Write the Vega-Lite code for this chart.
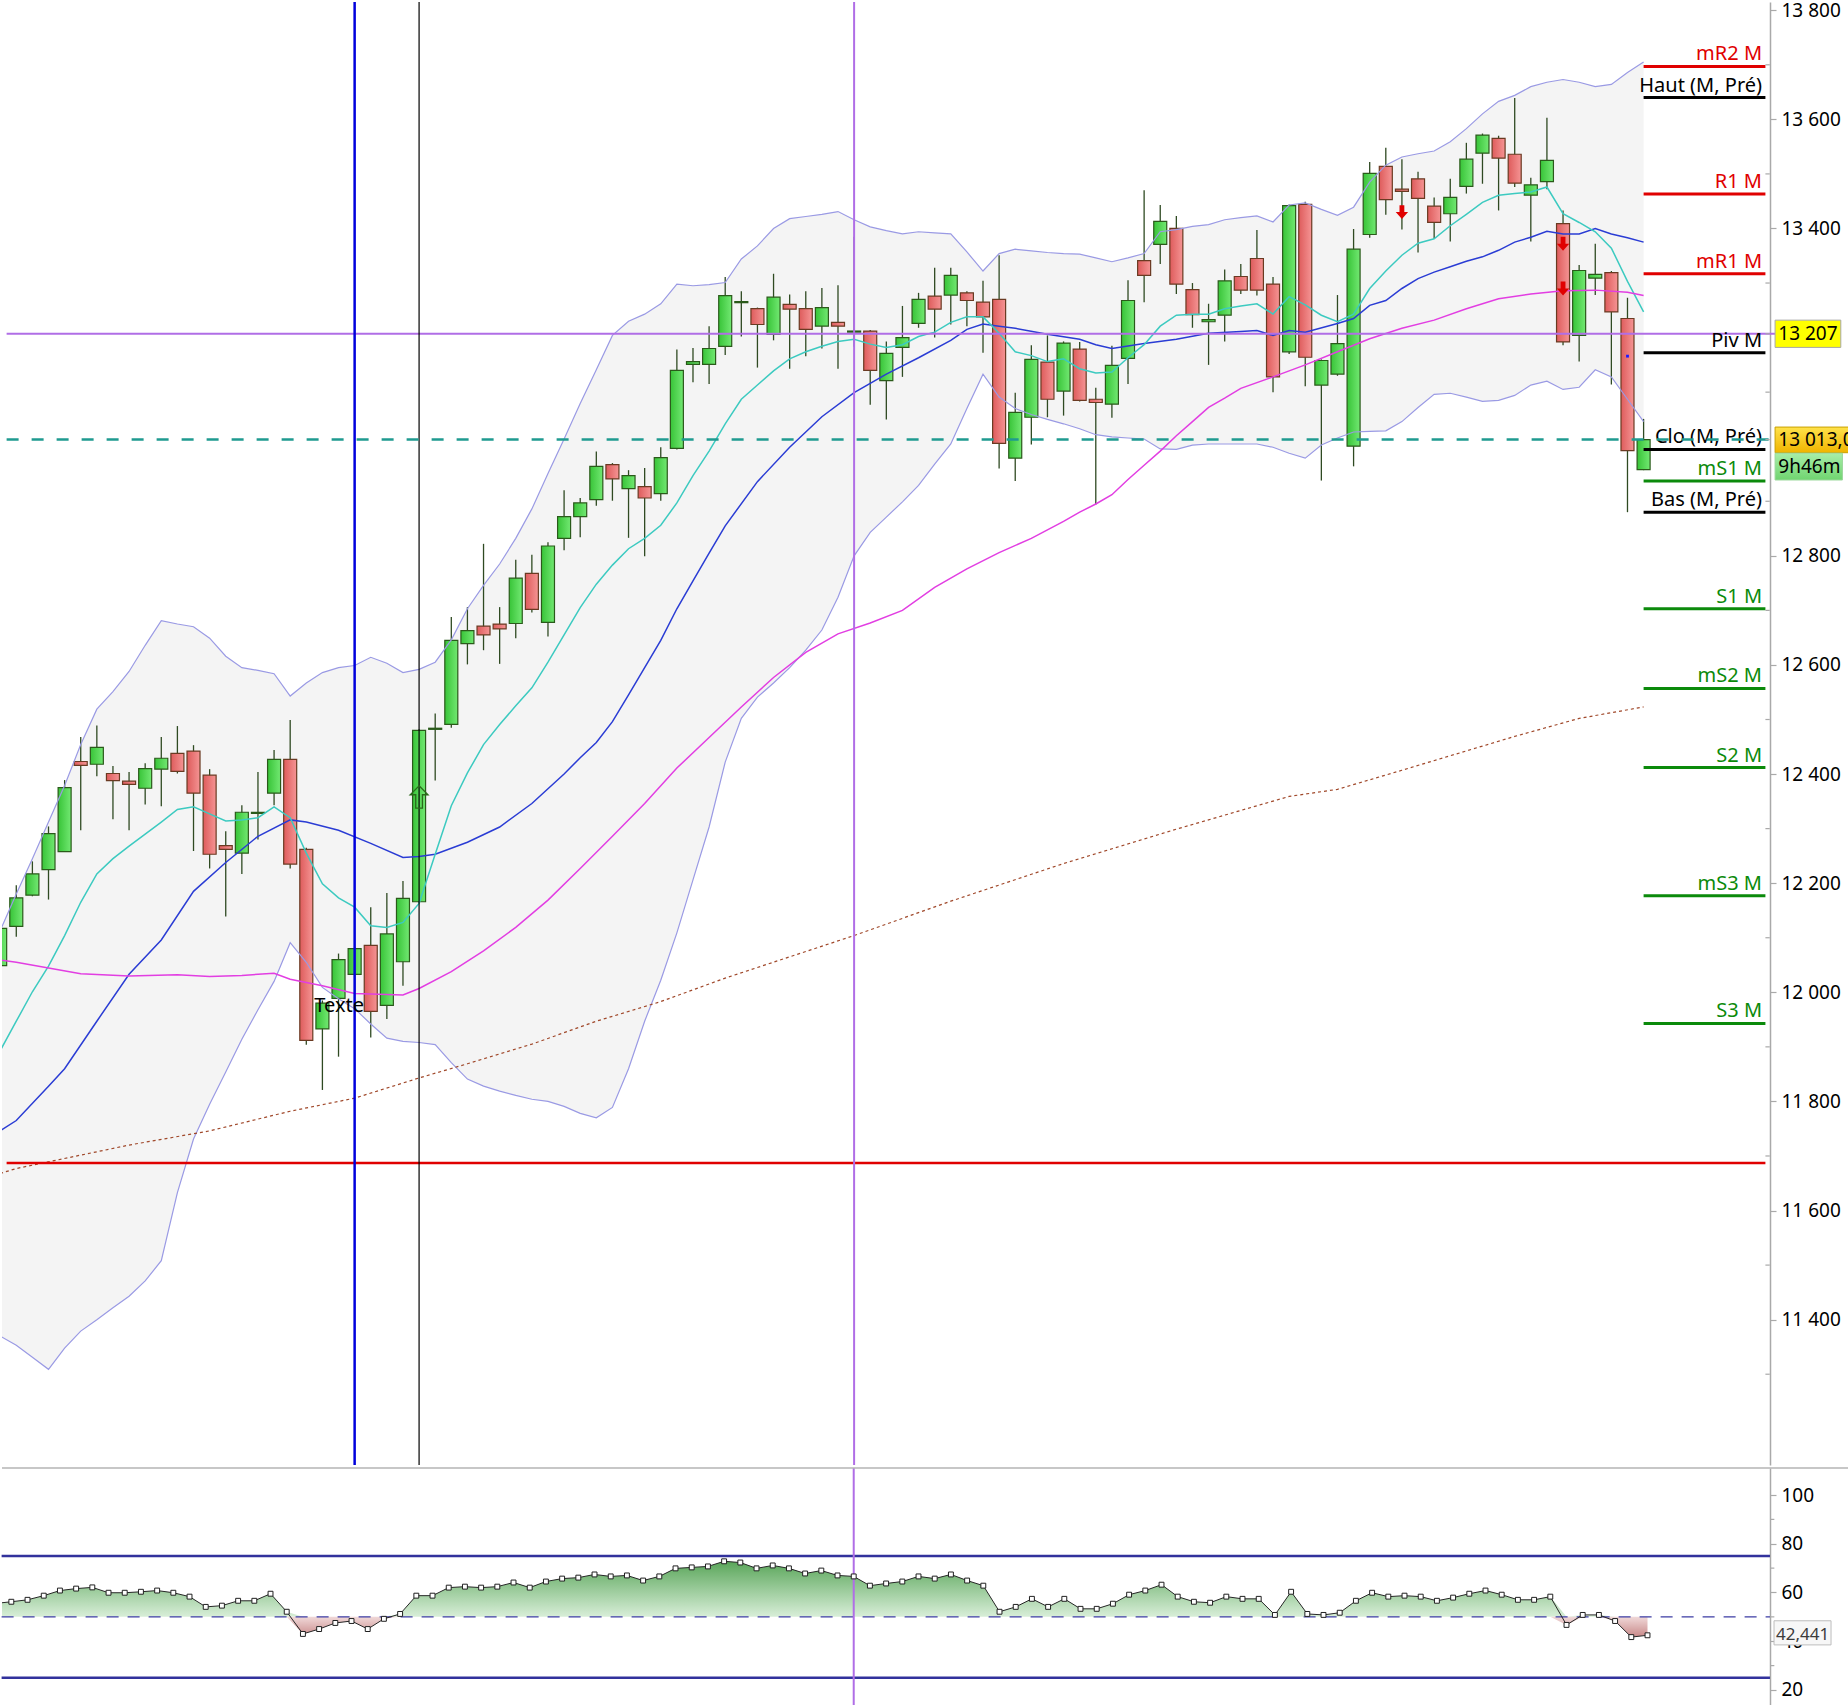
{
  "$schema": "https://vega.github.io/schema/vega-lite/v6.json",
  "description": "Candlestick chart with Bollinger bands, moving averages, monthly pivots and RSI panel",
  "padding": 0,
  "background": "white",
  "spacing": 0,
  "config": {
    "view": {"stroke": null},
    "font": "Noto Sans",
    "axis": {
      "grid": false,
      "domainColor": "#a9a9a9",
      "domainWidth": 1.5,
      "tickColor": "#a9a9a9",
      "tickWidth": 1.2,
      "tickSize": 6,
      "labelColor": "#000000",
      "labelFontSize": 19,
      "labelFont": "Noto Sans",
      "labelPadding": 5,
      "labelFlush": false,
      "labelOverlap": false,
      "labelBound": false
    }
  },
  "datasets": {
    "candles": [
      {"i":-1,"o":12049,"h":12125,"l":12040,"c":12117},
      {"i":0,"o":12121,"h":12196,"l":12102,"c":12173},
      {"i":1,"o":12178,"h":12240,"l":12176,"c":12217},
      {"i":2,"o":12225,"h":12304,"l":12170,"c":12291},
      {"i":3,"o":12258,"h":12389,"l":12258,"c":12375},
      {"i":4,"o":12423,"h":12468,"l":12297,"c":12416},
      {"i":5,"o":12418,"h":12489,"l":12396,"c":12449},
      {"i":6,"o":12401,"h":12415,"l":12317,"c":12388},
      {"i":7,"o":12387,"h":12404,"l":12297,"c":12381},
      {"i":8,"o":12374,"h":12420,"l":12344,"c":12410},
      {"i":9,"o":12409,"h":12468,"l":12341,"c":12429},
      {"i":10,"o":12438,"h":12488,"l":12401,"c":12405},
      {"i":11,"o":12442,"h":12453,"l":12259,"c":12365},
      {"i":12,"o":12398,"h":12409,"l":12227,"c":12253},
      {"i":13,"o":12269,"h":12295,"l":12139,"c":12262},
      {"i":14,"o":12255,"h":12343,"l":12217,"c":12330},
      {"i":15,"o":12328,"h":12404,"l":12280,"c":12330},
      {"i":16,"o":12365,"h":12444,"l":12343,"c":12427},
      {"i":17,"o":12427,"h":12499,"l":12227,"c":12235},
      {"i":18,"o":12262,"h":12265,"l":11904,"c":11912},
      {"i":19,"o":11933,"h":11985,"l":11821,"c":11980},
      {"i":20,"o":11989,"h":12071,"l":11882,"c":12060},
      {"i":21,"o":12033,"h":12083,"l":12000,"c":12080},
      {"i":22,"o":12086,"h":12156,"l":11917,"c":11965},
      {"i":23,"o":11976,"h":12182,"l":11951,"c":12107},
      {"i":24,"o":12056,"h":12204,"l":12012,"c":12172},
      {"i":25,"o":12166,"h":12482,"l":12163,"c":12480},
      {"i":26,"o":12482,"h":12511,"l":12388,"c":12484},
      {"i":27,"o":12491,"h":12688,"l":12485,"c":12645},
      {"i":28,"o":12639,"h":12706,"l":12601,"c":12663},
      {"i":29,"o":12671,"h":12822,"l":12627,"c":12655},
      {"i":30,"o":12675,"h":12706,"l":12602,"c":12666},
      {"i":31,"o":12676,"h":12793,"l":12649,"c":12759},
      {"i":32,"o":12768,"h":12802,"l":12696,"c":12702},
      {"i":33,"o":12678,"h":12825,"l":12652,"c":12818},
      {"i":34,"o":12832,"h":12920,"l":12810,"c":12872},
      {"i":35,"o":12872,"h":12906,"l":12834,"c":12897},
      {"i":36,"o":12903,"h":12991,"l":12892,"c":12964},
      {"i":37,"o":12967,"h":12970,"l":12901,"c":12941},
      {"i":38,"o":12923,"h":12957,"l":12833,"c":12947},
      {"i":39,"o":12927,"h":12961,"l":12799,"c":12906},
      {"i":40,"o":12914,"h":12999,"l":12901,"c":12980},
      {"i":41,"o":12997,"h":13178,"l":12995,"c":13140},
      {"i":42,"o":13151,"h":13181,"l":13118,"c":13156},
      {"i":43,"o":13151,"h":13221,"l":13115,"c":13180},
      {"i":44,"o":13184,"h":13311,"l":13168,"c":13277},
      {"i":45,"o":13264,"h":13285,"l":13202,"c":13266},
      {"i":46,"o":13253,"h":13255,"l":13145,"c":13224},
      {"i":47,"o":13206,"h":13317,"l":13195,"c":13274},
      {"i":48,"o":13261,"h":13279,"l":13143,"c":13252},
      {"i":49,"o":13253,"h":13285,"l":13166,"c":13215},
      {"i":50,"o":13221,"h":13291,"l":13180,"c":13255},
      {"i":51,"o":13228,"h":13296,"l":13143,"c":13221},
      {"i":52,"o":13210,"h":13385,"l":13183,"c":13212},
      {"i":53,"o":13212,"h":13214,"l":13077,"c":13140},
      {"i":54,"o":13121,"h":13193,"l":13050,"c":13171},
      {"i":55,"o":13182,"h":13258,"l":13128,"c":13200},
      {"i":56,"o":13226,"h":13282,"l":13218,"c":13270},
      {"i":57,"o":13276,"h":13328,"l":13200,"c":13252},
      {"i":58,"o":13278,"h":13328,"l":13224,"c":13314},
      {"i":59,"o":13282,"h":13285,"l":13221,"c":13268},
      {"i":60,"o":13265,"h":13304,"l":13172,"c":13238},
      {"i":61,"o":13270,"h":13351,"l":12960,"c":13006},
      {"i":62,"o":12979,"h":13099,"l":12937,"c":13063},
      {"i":63,"o":13054,"h":13186,"l":13004,"c":13160},
      {"i":64,"o":13155,"h":13204,"l":13054,"c":13087},
      {"i":65,"o":13102,"h":13193,"l":13057,"c":13190},
      {"i":66,"o":13179,"h":13192,"l":13083,"c":13085},
      {"i":67,"o":13087,"h":13108,"l":12894,"c":13081},
      {"i":68,"o":13078,"h":13185,"l":13053,"c":13149},
      {"i":69,"o":13162,"h":13305,"l":13115,"c":13268},
      {"i":70,"o":13341,"h":13470,"l":13265,"c":13314},
      {"i":71,"o":13371,"h":13443,"l":13335,"c":13413},
      {"i":72,"o":13400,"h":13423,"l":13280,"c":13298},
      {"i":73,"o":13288,"h":13300,"l":13218,"c":13242},
      {"i":74,"o":13229,"h":13262,"l":13150,"c":13233},
      {"i":75,"o":13241,"h":13325,"l":13193,"c":13304},
      {"i":76,"o":13312,"h":13335,"l":13280,"c":13287},
      {"i":77,"o":13345,"h":13397,"l":13277,"c":13287},
      {"i":78,"o":13298,"h":13311,"l":13100,"c":13128},
      {"i":79,"o":13174,"h":13444,"l":13170,"c":13442},
      {"i":80,"o":13444,"h":13449,"l":13111,"c":13164},
      {"i":81,"o":13113,"h":13160,"l":12938,"c":13158},
      {"i":82,"o":13133,"h":13278,"l":13130,"c":13189},
      {"i":83,"o":13001,"h":13399,"l":12964,"c":13362},
      {"i":84,"o":13389,"h":13522,"l":13383,"c":13501},
      {"i":85,"o":13514,"h":13548,"l":13425,"c":13453},
      {"i":86,"o":13472,"h":13527,"l":13398,"c":13468},
      {"i":87,"o":13491,"h":13504,"l":13356,"c":13455},
      {"i":88,"o":13441,"h":13457,"l":13381,"c":13411},
      {"i":89,"o":13427,"h":13491,"l":13376,"c":13457},
      {"i":90,"o":13477,"h":13557,"l":13464,"c":13527},
      {"i":91,"o":13538,"h":13574,"l":13482,"c":13571},
      {"i":92,"o":13565,"h":13570,"l":13433,"c":13529},
      {"i":93,"o":13536,"h":13639,"l":13476,"c":13483},
      {"i":94,"o":13461,"h":13493,"l":13376,"c":13480},
      {"i":95,"o":13486,"h":13603,"l":13472,"c":13525},
      {"i":96,"o":13409,"h":13433,"l":13186,"c":13192},
      {"i":97,"o":13204,"h":13333,"l":13156,"c":13323},
      {"i":98,"o":13309,"h":13372,"l":13278,"c":13316},
      {"i":99,"o":13319,"h":13322,"l":13114,"c":13247},
      {"i":100,"o":13235,"h":13273,"l":12880,"c":12993},
      {"i":101,"o":12958,"h":13051,"l":12957,"c":13013}
    ],
    "bands": [
      {"i":-1,"up":12113,"lo":11370},{"i":0,"up":12180,"lo":11353},{"i":1,"up":12245,"lo":11331},{"i":2,"up":12312,"lo":11309},
      {"i":3,"up":12379,"lo":11348},{"i":4,"up":12454,"lo":11379},{"i":5,"up":12519,"lo":11400},{"i":6,"up":12551,"lo":11422},
      {"i":7,"up":12588,"lo":11443},{"i":8,"up":12636,"lo":11471},{"i":9,"up":12681,"lo":11508},{"i":10,"up":12675,"lo":11633},
      {"i":11,"up":12670,"lo":11731},{"i":12,"up":12649,"lo":11795},{"i":13,"up":12616,"lo":11854},{"i":14,"up":12595,"lo":11914},
      {"i":15,"up":12590,"lo":11968},{"i":16,"up":12584,"lo":12020},{"i":17,"up":12543,"lo":12091},{"i":18,"up":12567,"lo":12055},
      {"i":19,"up":12586,"lo":12009},{"i":20,"up":12595,"lo":11988},{"i":21,"up":12599,"lo":11970},{"i":22,"up":12614,"lo":11942},
      {"i":23,"up":12603,"lo":11916},{"i":24,"up":12586,"lo":11910},{"i":25,"up":12592,"lo":11908},{"i":26,"up":12605,"lo":11904},
      {"i":27,"up":12646,"lo":11871},{"i":28,"up":12703,"lo":11841},{"i":29,"up":12746,"lo":11828},{"i":30,"up":12785,"lo":11819},
      {"i":31,"up":12832,"lo":11811},{"i":32,"up":12886,"lo":11804},{"i":33,"up":12951,"lo":11800},{"i":34,"up":13014,"lo":11791},
      {"i":35,"up":13079,"lo":11778},{"i":36,"up":13141,"lo":11770},{"i":37,"up":13204,"lo":11789},{"i":38,"up":13230,"lo":11860},
      {"i":39,"up":13243,"lo":11947},{"i":40,"up":13262,"lo":12022},{"i":41,"up":13298,"lo":12109},{"i":42,"up":13295,"lo":12206},
      {"i":43,"up":13297,"lo":12303},{"i":44,"up":13301,"lo":12422},{"i":45,"up":13344,"lo":12502},{"i":46,"up":13368,"lo":12541},
      {"i":47,"up":13400,"lo":12567},{"i":48,"up":13418,"lo":12595},{"i":49,"up":13422,"lo":12627},{"i":50,"up":13426,"lo":12664},
      {"i":51,"up":13431,"lo":12724},{"i":52,"up":13416,"lo":12800},{"i":53,"up":13403,"lo":12843},{"i":54,"up":13396,"lo":12871},
      {"i":55,"up":13390,"lo":12899},{"i":56,"up":13394,"lo":12929},{"i":57,"up":13392,"lo":12968},{"i":58,"up":13390,"lo":13005},
      {"i":59,"up":13357,"lo":13070},{"i":60,"up":13322,"lo":13133},{"i":61,"up":13354,"lo":13091},{"i":62,"up":13362,"lo":13070},
      {"i":63,"up":13359,"lo":13059},{"i":64,"up":13356,"lo":13050},{"i":65,"up":13354,"lo":13042},{"i":66,"up":13353,"lo":13033},
      {"i":67,"up":13346,"lo":13022},{"i":68,"up":13339,"lo":13018},{"i":69,"up":13346,"lo":13016},{"i":70,"up":13354,"lo":13014},
      {"i":71,"up":13394,"lo":12996},{"i":72,"up":13398,"lo":12995},{"i":73,"up":13404,"lo":13003},{"i":74,"up":13407,"lo":13005},
      {"i":75,"up":13416,"lo":13005},{"i":76,"up":13420,"lo":13005},{"i":77,"up":13423,"lo":13005},{"i":78,"up":13412,"lo":12999},
      {"i":79,"up":13443,"lo":12988},{"i":80,"up":13447,"lo":12979},{"i":81,"up":13435,"lo":13003},{"i":82,"up":13424,"lo":13016},
      {"i":83,"up":13439,"lo":13027},{"i":84,"up":13485,"lo":13028},{"i":85,"up":13516,"lo":13029},{"i":86,"up":13531,"lo":13046},
      {"i":87,"up":13537,"lo":13072},{"i":88,"up":13542,"lo":13096},{"i":89,"up":13559,"lo":13098},{"i":90,"up":13583,"lo":13091},
      {"i":91,"up":13610,"lo":13083},{"i":92,"up":13633,"lo":13085},{"i":93,"up":13644,"lo":13094},{"i":94,"up":13660,"lo":13113},
      {"i":95,"up":13668,"lo":13120},{"i":96,"up":13673,"lo":13105},{"i":97,"up":13668,"lo":13109},{"i":98,"up":13660,"lo":13141},
      {"i":99,"up":13664,"lo":13128},{"i":100,"up":13686,"lo":13087},{"i":101,"up":13705,"lo":13046}
    ],
    "mid": [
      {"i":-1,"v":11746},{"i":0,"v":11765},{"i":2,"v":11828},{"i":3,"v":11860},{"i":5,"v":11947},{"i":7,"v":12033},
      {"i":9,"v":12096},{"i":11,"v":12185},{"i":13,"v":12238},{"i":15,"v":12286},{"i":17,"v":12316},{"i":18,"v":12312},
      {"i":20,"v":12297},{"i":22,"v":12273},{"i":24,"v":12247},{"i":25,"v":12249},{"i":26,"v":12253},{"i":28,"v":12275},
      {"i":30,"v":12303},{"i":32,"v":12346},{"i":34,"v":12400},{"i":35,"v":12430},{"i":36,"v":12458},{"i":37,"v":12496},
      {"i":38,"v":12545},{"i":39,"v":12595},{"i":40,"v":12645},{"i":41,"v":12703},{"i":42,"v":12754},{"i":43,"v":12805},
      {"i":44,"v":12855},{"i":46,"v":12936},{"i":48,"v":12999},{"i":50,"v":13055},{"i":52,"v":13099},{"i":54,"v":13133},
      {"i":56,"v":13163},{"i":58,"v":13195},{"i":59,"v":13215},{"i":60,"v":13225},{"i":61,"v":13221},{"i":62,"v":13217},
      {"i":64,"v":13206},{"i":66,"v":13197},{"i":67,"v":13187},{"i":68,"v":13180},{"i":70,"v":13189},{"i":72,"v":13197},
      {"i":74,"v":13208},{"i":76,"v":13211},{"i":77,"v":13213},{"i":78,"v":13204},{"i":79,"v":13213},{"i":80,"v":13210},
      {"i":82,"v":13226},{"i":83,"v":13235},{"i":84,"v":13259},{"i":85,"v":13268},{"i":86,"v":13290},{"i":87,"v":13308},
      {"i":88,"v":13320},{"i":89,"v":13330},{"i":90,"v":13340},{"i":91,"v":13348},{"i":92,"v":13360},{"i":93,"v":13375},
      {"i":94,"v":13384},{"i":95,"v":13395},{"i":96,"v":13390},{"i":97,"v":13390},{"i":98,"v":13400},{"i":99,"v":13390},
      {"i":100,"v":13383},{"i":101,"v":13375}
    ],
    "fast": [
      {"i":-1,"v":11893},{"i":0,"v":11947},{"i":1,"v":12001},{"i":2,"v":12048},{"i":3,"v":12104},{"i":4,"v":12165},
      {"i":5,"v":12217},{"i":6,"v":12245},{"i":7,"v":12268},{"i":8,"v":12290},{"i":9,"v":12312},{"i":10,"v":12335},
      {"i":11,"v":12340},{"i":12,"v":12327},{"i":13,"v":12314},{"i":14,"v":12316},{"i":15,"v":12320},{"i":16,"v":12340},
      {"i":17,"v":12320},{"i":18,"v":12255},{"i":19,"v":12199},{"i":20,"v":12173},{"i":21,"v":12156},{"i":22,"v":12122},
      {"i":23,"v":12119},{"i":24,"v":12128},{"i":25,"v":12163},{"i":26,"v":12253},{"i":27,"v":12342},{"i":28,"v":12402},
      {"i":29,"v":12454},{"i":30,"v":12491},{"i":31,"v":12525},{"i":32,"v":12558},{"i":33,"v":12605},{"i":34,"v":12655},
      {"i":35,"v":12705},{"i":36,"v":12748},{"i":37,"v":12783},{"i":38,"v":12813},{"i":39,"v":12832},{"i":40,"v":12856},
      {"i":41,"v":12897},{"i":42,"v":12947},{"i":43,"v":12992},{"i":44,"v":13042},{"i":45,"v":13087},{"i":46,"v":13113},
      {"i":47,"v":13139},{"i":48,"v":13161},{"i":49,"v":13174},{"i":50,"v":13184},{"i":51,"v":13193},{"i":52,"v":13197},
      {"i":53,"v":13188},{"i":54,"v":13182},{"i":55,"v":13187},{"i":56,"v":13202},{"i":57,"v":13210},{"i":58,"v":13228},
      {"i":59,"v":13238},{"i":60,"v":13238},{"i":61,"v":13208},{"i":62,"v":13174},{"i":63,"v":13167},{"i":64,"v":13156},
      {"i":65,"v":13161},{"i":66,"v":13143},{"i":67,"v":13135},{"i":68,"v":13137},{"i":69,"v":13163},{"i":70,"v":13187},
      {"i":71,"v":13221},{"i":72,"v":13241},{"i":73,"v":13243},{"i":74,"v":13243},{"i":75,"v":13253},{"i":76,"v":13258},
      {"i":77,"v":13262},{"i":78,"v":13243},{"i":79,"v":13275},{"i":80,"v":13260},{"i":81,"v":13241},{"i":82,"v":13229},
      {"i":83,"v":13243},{"i":84,"v":13290},{"i":85,"v":13322},{"i":86,"v":13351},{"i":87,"v":13373},{"i":88,"v":13381},
      {"i":89,"v":13405},{"i":90,"v":13426},{"i":91,"v":13448},{"i":92,"v":13461},{"i":93,"v":13464},{"i":94,"v":13467},
      {"i":95,"v":13476},{"i":96,"v":13427},{"i":97,"v":13411},{"i":98,"v":13394},{"i":99,"v":13364},{"i":100,"v":13303},
      {"i":101,"v":13247}
    ],
    "slow": [
      {"i":-1,"v":12059},{"i":0,"v":12055},{"i":4,"v":12034},{"i":7,"v":12030},{"i":10,"v":12032},{"i":12,"v":12029},
      {"i":14,"v":12031},{"i":16,"v":12035},{"i":17,"v":12024},{"i":19,"v":12012},{"i":21,"v":11998},{"i":24,"v":11995},
      {"i":25,"v":12007},{"i":27,"v":12038},{"i":29,"v":12076},{"i":31,"v":12119},{"i":33,"v":12169},{"i":35,"v":12227},
      {"i":37,"v":12286},{"i":39,"v":12346},{"i":41,"v":12411},{"i":43,"v":12467},{"i":45,"v":12523},{"i":47,"v":12577},
      {"i":49,"v":12623},{"i":51,"v":12657},{"i":53,"v":12677},{"i":55,"v":12700},{"i":57,"v":12742},{"i":59,"v":12776},
      {"i":61,"v":12806},{"i":63,"v":12832},{"i":65,"v":12863},{"i":66,"v":12880},{"i":67,"v":12895},{"i":68,"v":12912},
      {"i":69,"v":12940},{"i":70,"v":12966},{"i":71,"v":12992},{"i":72,"v":13020},{"i":73,"v":13046},{"i":74,"v":13072},
      {"i":75,"v":13089},{"i":76,"v":13107},{"i":78,"v":13128},{"i":80,"v":13150},{"i":82,"v":13174},{"i":84,"v":13198},
      {"i":86,"v":13217},{"i":88,"v":13232},{"i":90,"v":13253},{"i":92,"v":13271},{"i":94,"v":13280},{"i":96,"v":13286},
      {"i":98,"v":13287},{"i":100,"v":13283},{"i":101,"v":13277}
    ],
    "ma200": [
      {"i":-1,"v":11668},{"i":0,"v":11677},{"i":7,"v":11720},{"i":12,"v":11746},{"i":17,"v":11782},{"i":21,"v":11806},
      {"i":25,"v":11843},{"i":28,"v":11869},{"i":32,"v":11905},{"i":36,"v":11947},{"i":40,"v":11983},{"i":44,"v":12026},
      {"i":48,"v":12065},{"i":52,"v":12104},{"i":58,"v":12167},{"i":65,"v":12236},{"i":72,"v":12299},{"i":79,"v":12359},
      {"i":82,"v":12372},{"i":86,"v":12407},{"i":93,"v":12469},{"i":97,"v":12502},{"i":101,"v":12523}
    ],
    "pivots": [
      {"n":"mR2 M","v":13697,"k":"r"},
      {"n":"Haut (M, Pré)","v":13640,"k":"n"},
      {"n":"R1 M","v":13463,"k":"r"},
      {"n":"mR1 M","v":13317,"k":"r"},
      {"n":"Piv M","v":13172,"k":"n"},
      {"n":"Clo (M, Pré)","v":12995,"k":"n"},
      {"n":"mS1 M","v":12937,"k":"s"},
      {"n":"Bas (M, Pré)","v":12880,"k":"n"},
      {"n":"S1 M","v":12703,"k":"s"},
      {"n":"mS2 M","v":12557,"k":"s"},
      {"n":"S2 M","v":12412,"k":"s"},
      {"n":"mS3 M","v":12177,"k":"s"},
      {"n":"S3 M","v":11943,"k":"s"}
    ],
    "ticks": [
      {"v":11300},{"v":11500},{"v":11700},{"v":11900},{"v":12100},{"v":12300},{"v":12500},{"v":12700},
      {"v":12900},{"v":13100},{"v":13300},{"v":13500},{"v":13700},{"v":13207},{"v":13013}
    ],
    "rsi": [
      {"i":-1,"r":55.5},{"i":0,"r":56.2},{"i":1,"r":57.0},{"i":2,"r":58.7},{"i":3,"r":60.8},{"i":4,"r":61.6},
      {"i":5,"r":62.1},{"i":6,"r":59.9},{"i":7,"r":59.9},{"i":8,"r":60.3},{"i":9,"r":60.8},{"i":10,"r":59.9},
      {"i":11,"r":58.3},{"i":12,"r":54.1},{"i":13,"r":54.6},{"i":14,"r":56.6},{"i":15,"r":56.6},{"i":16,"r":59.5},
      {"i":17,"r":52.1},{"i":18,"r":43.0},{"i":19,"r":45.0},{"i":20,"r":47.5},{"i":21,"r":48.3},{"i":22,"r":45.0},
      {"i":23,"r":49.2},{"i":24,"r":51.2},{"i":25,"r":58.7},{"i":26,"r":58.7},{"i":27,"r":62.0},{"i":28,"r":62.4},
      {"i":29,"r":62.0},{"i":30,"r":62.4},{"i":31,"r":64.1},{"i":32,"r":62.0},{"i":33,"r":64.5},{"i":34,"r":65.7},
      {"i":35,"r":66.1},{"i":36,"r":67.4},{"i":37,"r":66.6},{"i":38,"r":67.0},{"i":39,"r":64.9},{"i":40,"r":66.6},
      {"i":41,"r":69.9},{"i":42,"r":70.3},{"i":43,"r":70.7},{"i":44,"r":72.8},{"i":45,"r":72.3},{"i":46,"r":69.9},
      {"i":47,"r":71.1},{"i":48,"r":69.9},{"i":49,"r":67.8},{"i":50,"r":69.0},{"i":51,"r":67.0},{"i":52,"r":66.6},
      {"i":53,"r":62.8},{"i":54,"r":63.7},{"i":55,"r":64.5},{"i":56,"r":66.6},{"i":57,"r":65.7},{"i":58,"r":67.4},
      {"i":59,"r":64.9},{"i":60,"r":62.8},{"i":61,"r":52.1},{"i":62,"r":54.1},{"i":63,"r":57.4},{"i":64,"r":54.1},
      {"i":65,"r":57.4},{"i":66,"r":53.3},{"i":67,"r":53.3},{"i":68,"r":55.4},{"i":69,"r":59.1},{"i":70,"r":60.8},
      {"i":71,"r":63.2},{"i":72,"r":58.3},{"i":73,"r":56.2},{"i":74,"r":55.8},{"i":75,"r":58.3},{"i":76,"r":57.4},
      {"i":77,"r":57.4},{"i":78,"r":50.8},{"i":79,"r":60.3},{"i":80,"r":51.2},{"i":81,"r":50.8},{"i":82,"r":51.7},
      {"i":83,"r":56.6},{"i":84,"r":59.9},{"i":85,"r":58.3},{"i":86,"r":58.7},{"i":87,"r":58.3},{"i":88,"r":56.6},
      {"i":89,"r":57.9},{"i":90,"r":59.5},{"i":91,"r":60.8},{"i":92,"r":59.1},{"i":93,"r":57.0},{"i":94,"r":57.0},
      {"i":95,"r":58.3},{"i":96,"r":46.7},{"i":97,"r":50.8},{"i":98,"r":50.8},{"i":99,"r":48.3},{"i":100,"r":41.7},
      {"i":101,"r":42.441}
    ]
  },
  "vconcat": [
    {
      "width": 1848,
      "height": 1463,
      "layer": [
        {
          "data": {"name": "bands"},
          "mark": {"type": "area", "fill": "#f4f4f4", "clip": true},
          "encoding": {
            "x": {"field": "i", "type": "quantitative", "scale": {"domain": [-0.576, 113.5], "nice": false, "zero": false}, "axis": null},
            "y": {
              "field": "up", "type": "quantitative",
              "scale": {"domain": [11133.6, 13815.1], "nice": false, "zero": false},
              "axis": {
                "orient": "right", "offset": -80, "title": null,
                "values": [11400, 11600, 11800, 12000, 12200, 12400, 12600, 12800, 13400, 13600, 13800],
                "labelExpr": "replace(format(datum.value, ','), ',', ' ')"
              }
            },
            "y2": {"field": "lo"}
          }
        },
        {
          "data": {"name": "candles"},
          "mark": {"type": "rule", "color": "#2f4a22", "strokeWidth": 1.3, "clip": true},
          "encoding": {
            "x": {"field": "i", "type": "quantitative"},
            "y": {"field": "l", "type": "quantitative"},
            "y2": {"field": "h"}
          }
        },
        {
          "data": {"name": "candles"},
          "transform": [{"filter": "datum.c >= datum.o"}],
          "mark": {
            "type": "bar", "width": 13, "clip": true, "stroke": "#2a5a1a", "strokeWidth": 1.2,
            "fill": {"gradient": "linear", "x1": 0, "y1": 0, "x2": 1, "y2": 0,
              "stops": [{"offset": 0, "color": "#38c438"}, {"offset": 1, "color": "#72e872"}]}
          },
          "encoding": {
            "x": {"field": "i", "type": "quantitative"},
            "y": {"field": "o", "type": "quantitative"},
            "y2": {"field": "c"}
          }
        },
        {
          "data": {"name": "candles"},
          "transform": [{"filter": "datum.c < datum.o"}],
          "mark": {
            "type": "bar", "width": 13, "clip": true, "stroke": "#6a3a22", "strokeWidth": 1.2,
            "fill": {"gradient": "linear", "x1": 0, "y1": 0, "x2": 1, "y2": 0,
              "stops": [{"offset": 0, "color": "#de5c5c"}, {"offset": 1, "color": "#f59494"}]}
          },
          "encoding": {
            "x": {"field": "i", "type": "quantitative"},
            "y": {"field": "o", "type": "quantitative"},
            "y2": {"field": "c"}
          }
        },
        {
          "data": {"name": "bands"},
          "mark": {"type": "line", "color": "#9a9ae4", "strokeWidth": 1.2, "clip": true},
          "encoding": {"x": {"field": "i", "type": "quantitative"}, "y": {"field": "up", "type": "quantitative"}}
        },
        {
          "data": {"name": "bands"},
          "mark": {"type": "line", "color": "#9a9ae4", "strokeWidth": 1.2, "clip": true},
          "encoding": {"x": {"field": "i", "type": "quantitative"}, "y": {"field": "lo", "type": "quantitative"}}
        },
        {
          "data": {"name": "mid"},
          "mark": {"type": "line", "color": "#2a3cd4", "strokeWidth": 1.5, "clip": true},
          "encoding": {"x": {"field": "i", "type": "quantitative"}, "y": {"field": "v", "type": "quantitative"}}
        },
        {
          "data": {"name": "fast"},
          "mark": {"type": "line", "color": "#3ccac0", "strokeWidth": 1.5, "clip": true},
          "encoding": {"x": {"field": "i", "type": "quantitative"}, "y": {"field": "v", "type": "quantitative"}}
        },
        {
          "data": {"name": "slow"},
          "mark": {"type": "line", "color": "#e23ee2", "strokeWidth": 1.5, "clip": true},
          "encoding": {"x": {"field": "i", "type": "quantitative"}, "y": {"field": "v", "type": "quantitative"}}
        },
        {
          "data": {"name": "ma200"},
          "mark": {"type": "line", "color": "#a0482a", "strokeWidth": 1.2, "strokeDash": [3, 3], "clip": true},
          "encoding": {"x": {"field": "i", "type": "quantitative"}, "y": {"field": "v", "type": "quantitative"}}
        },
        {
          "data": {"values": [{}]},
          "mark": {"type": "rule", "color": "#e00000", "strokeWidth": 2.5},
          "encoding": {"x": {"datum": -0.6}, "x2": {"datum": 108.56}, "y": {"datum": 11687}}
        },
        {
          "data": {"values": [{}]},
          "mark": {"type": "rule", "color": "#b06ee6", "strokeWidth": 2},
          "encoding": {"x": {"datum": -0.6}, "x2": {"datum": 109.16}, "y": {"datum": 13207}}
        },
        {
          "data": {"values": [{}]},
          "mark": {"type": "rule", "color": "#0000dc", "strokeWidth": 2.5},
          "encoding": {"x": {"datum": 21}}
        },
        {
          "data": {"values": [{}]},
          "mark": {"type": "rule", "color": "#000000", "strokeWidth": 1.2},
          "encoding": {"x": {"datum": 25}}
        },
        {
          "data": {"values": [{}]},
          "mark": {"type": "rule", "color": "#b06ee6", "strokeWidth": 2},
          "encoding": {"x": {"datum": 52}}
        },
        {
          "data": {"name": "pivots"},
          "mark": {"type": "rule", "strokeWidth": 3},
          "encoding": {
            "x": {"datum": 101},
            "x2": {"datum": 108.56},
            "y": {"field": "v", "type": "quantitative"},
            "color": {"field": "k", "type": "nominal", "scale": {"domain": ["r", "n", "s"], "range": ["#e00000", "#000000", "#0b8a0b"]}, "legend": null}
          }
        },
        {
          "data": {"name": "pivots"},
          "mark": {"type": "text", "align": "right", "baseline": "alphabetic", "dy": -6, "fontSize": 20},
          "encoding": {
            "x": {"datum": 108.35},
            "y": {"field": "v", "type": "quantitative"},
            "text": {"field": "n"},
            "color": {"field": "k", "type": "nominal", "scale": {"domain": ["r", "n", "s"], "range": ["#e00000", "#000000", "#0b8a0b"]}, "legend": null}
          }
        },
        {
          "data": {"values": [{}]},
          "mark": {"type": "rule", "color": "#1f9a90", "strokeWidth": 2.5, "strokeDash": [12, 13]},
          "encoding": {"x": {"datum": -0.6}, "x2": {"datum": 109.16}, "y": {"datum": 13013}}
        },
        {
          "data": {"name": "ticks"},
          "mark": {"type": "rule", "color": "#a9a9a9", "strokeWidth": 1.2},
          "encoding": {"x": {"datum": 108.56}, "x2": {"datum": 108.83}, "y": {"field": "v", "type": "quantitative"}}
        },
        {
          "data": {"values": [{"i": 86, "v": 13430}, {"i": 96, "v": 13372}, {"i": 96, "v": 13290}]},
          "mark": {"type": "point", "shape": "M-0.35,-1L0.35,-1L0.35,0L0.9,0L0,1L-0.9,0L-0.35,0Z", "filled": true, "color": "#e00000", "opacity": 1, "size": 190},
          "encoding": {"x": {"field": "i", "type": "quantitative"}, "y": {"field": "v", "type": "quantitative"}}
        },
        {
          "data": {"values": [{"i": 25, "v": 12358}]},
          "mark": {"type": "point", "shape": "M0,-1L0.8,-0.2L0.3,-0.2L0.3,1L-0.3,1L-0.3,-0.2L-0.8,-0.2Z", "filled": false, "color": "#2a6a1a", "opacity": 1, "strokeWidth": 1.3, "size": 500},
          "encoding": {"x": {"field": "i", "type": "quantitative"}, "y": {"field": "v", "type": "quantitative"}}
        },
        {
          "data": {"values": [{"i": 100, "v": 13166}]},
          "mark": {"type": "point", "shape": "square", "filled": true, "color": "#1a1aff", "opacity": 1, "size": 8},
          "encoding": {"x": {"field": "i", "type": "quantitative"}, "y": {"field": "v", "type": "quantitative"}}
        },
        {
          "data": {"values": [{"i": 18.5, "v": 11964, "t": "Texte"}]},
          "mark": {"type": "text", "align": "left", "baseline": "alphabetic", "fontSize": 20, "color": "#000000"},
          "encoding": {"x": {"field": "i", "type": "quantitative"}, "y": {"field": "v", "type": "quantitative"}, "text": {"field": "t"}}
        },
        {
          "data": {"values": [{}]},
          "mark": {"type": "rect", "fill": "#ffff00", "stroke": "#a8a8a8", "strokeWidth": 1},
          "encoding": {"x": {"datum": 109.16}, "x2": {"datum": 113.24}, "y": {"datum": 13232}, "y2": {"datum": 13182}}
        },
        {
          "data": {"values": [{}]},
          "mark": {
            "type": "rect", "clip": true, "stroke": "#c8a000", "strokeWidth": 1,
            "fill": {"gradient": "linear", "x1": 0, "y1": 0, "x2": 0, "y2": 1,
              "stops": [{"offset": 0, "color": "#ffe24a"}, {"offset": 1, "color": "#f0b400"}]}
          },
          "encoding": {"x": {"datum": 109.16}, "x2": {"datum": 114}, "y": {"datum": 13036}, "y2": {"datum": 12989}}
        },
        {
          "data": {"values": [{}]},
          "mark": {
            "type": "rect", "stroke": "#9ad89a", "strokeWidth": 1,
            "fill": {"gradient": "linear", "x1": 0, "y1": 0, "x2": 0, "y2": 1,
              "stops": [{"offset": 0, "color": "#a8eea8"}, {"offset": 1, "color": "#70d470"}]}
          },
          "encoding": {"x": {"datum": 109.16}, "x2": {"datum": 113.34}, "y": {"datum": 12988}, "y2": {"datum": 12939}}
        },
        {
          "data": {"values": [{"t": "13 207", "v": 13207}, {"t": "13 013,0", "v": 13012}, {"t": "9h46m", "v": 12963}]},
          "mark": {"type": "text", "align": "left", "baseline": "middle", "fontSize": 19, "color": "#000000", "clip": true},
          "encoding": {"x": {"datum": 109.36}, "y": {"field": "v", "type": "quantitative"}, "text": {"field": "t"}}
        }
      ]
    },
    {
      "width": 1848,
      "height": 241,
      "resolve": {"scale": {"y": "independent"}},
      "layer": [
        {
          "data": {"name": "rsi"},
          "mark": {
            "type": "area", "clip": true,
            "fill": {"gradient": "linear", "x1": 0, "y1": 0, "x2": 0, "y2": 1,
              "stops": [{"offset": 0, "color": "#5aa65a"}, {"offset": 1, "color": "#d8eed8"}]}
          },
          "encoding": {
            "x": {"field": "i", "type": "quantitative", "scale": {"domain": [-0.576, 113.5], "nice": false, "zero": false}, "axis": null},
            "y": {"field": "r", "type": "quantitative", "scale": {"domain": [50, 111.08], "range": [148.87, 0], "clamp": true, "nice": false, "zero": false}, "axis": null},
            "y2": {"datum": 50}
          }
        },
        {
          "data": {"name": "rsi"},
          "mark": {
            "type": "area", "clip": true,
            "fill": {"gradient": "linear", "x1": 0, "y1": 0, "x2": 0, "y2": 1,
              "stops": [{"offset": 0, "color": "#f0d8d8"}, {"offset": 1, "color": "#c88888"}]}
          },
          "encoding": {
            "x": {"field": "i", "type": "quantitative"},
            "y": {"field": "r", "type": "quantitative", "scale": {"domain": [12.2, 50], "range": [241, 148.87], "clamp": true, "nice": false, "zero": false}, "axis": null},
            "y2": {"datum": 50}
          }
        },
        {
          "layer": [
            {
              "data": {"values": [{}]},
              "mark": {"type": "rule", "color": "#32329c", "strokeWidth": 2.5},
              "encoding": {
                "x": {"datum": -0.6},
                "x2": {"datum": 108.56},
                "y": {
                  "datum": 75, "type": "quantitative",
                  "scale": {"domain": [12.2, 111.08], "nice": false, "zero": false},
                  "axis": {"orient": "right", "offset": -80, "title": null, "values": [20, 40, 60, 80, 100]}
                }
              }
            },
            {
              "data": {"values": [{}]},
              "mark": {"type": "rule", "color": "#32329c", "strokeWidth": 2.5},
              "encoding": {"x": {"datum": -0.6}, "x2": {"datum": 108.56}, "y": {"datum": 25}}
            },
            {
              "data": {"values": [{}]},
              "mark": {"type": "rule", "color": "#3c3ca4", "strokeWidth": 1.3, "strokeDash": [12, 9]},
              "encoding": {"x": {"datum": -0.6}, "x2": {"datum": 108.56}, "y": {"datum": 50}}
            },
            {
              "data": {"values": [{}]},
              "mark": {"type": "rule", "color": "#b06ee6", "strokeWidth": 2},
              "encoding": {"x": {"datum": 52}}
            },
            {
              "data": {"values": [{}]},
              "mark": {"type": "rule", "color": "#b4b4b4", "strokeWidth": 1.5},
              "encoding": {"y": {"datum": 111.08}}
            },
            {
              "data": {"values": [{"v": 30}, {"v": 50}, {"v": 70}, {"v": 90}]},
              "mark": {"type": "rule", "color": "#a9a9a9", "strokeWidth": 1.2},
              "encoding": {"x": {"datum": 108.56}, "x2": {"datum": 108.83}, "y": {"field": "v", "type": "quantitative"}}
            },
            {
              "data": {"name": "rsi"},
              "mark": {"type": "line", "color": "#262626", "strokeWidth": 1, "clip": true},
              "encoding": {"x": {"field": "i", "type": "quantitative"}, "y": {"field": "r", "type": "quantitative"}}
            },
            {
              "data": {"name": "rsi"},
              "mark": {"type": "point", "shape": "square", "filled": true, "color": "#ffffff", "stroke": "#202020", "strokeWidth": 1, "opacity": 1, "size": 24, "clip": true},
              "encoding": {"x": {"field": "i", "type": "quantitative"}, "y": {"field": "r", "type": "quantitative"}}
            },
            {
              "data": {"values": [{}]},
              "mark": {"type": "rect", "fill": "#f7f7f7", "stroke": "#bdbdbd", "strokeWidth": 1},
              "encoding": {"x": {"datum": 108.81}, "x2": {"datum": 112.33}, "y": {"datum": 48.4}, "y2": {"datum": 38.5}}
            },
            {
              "data": {"values": [{"t": "42,441", "v": 42.441}]},
              "mark": {"type": "text", "align": "left", "baseline": "middle", "fontSize": 17, "color": "#3c3c3c"},
              "encoding": {"x": {"datum": 108.93}, "y": {"field": "v", "type": "quantitative"}, "text": {"field": "t"}}
            }
          ]
        }
      ]
    }
  ]
}
